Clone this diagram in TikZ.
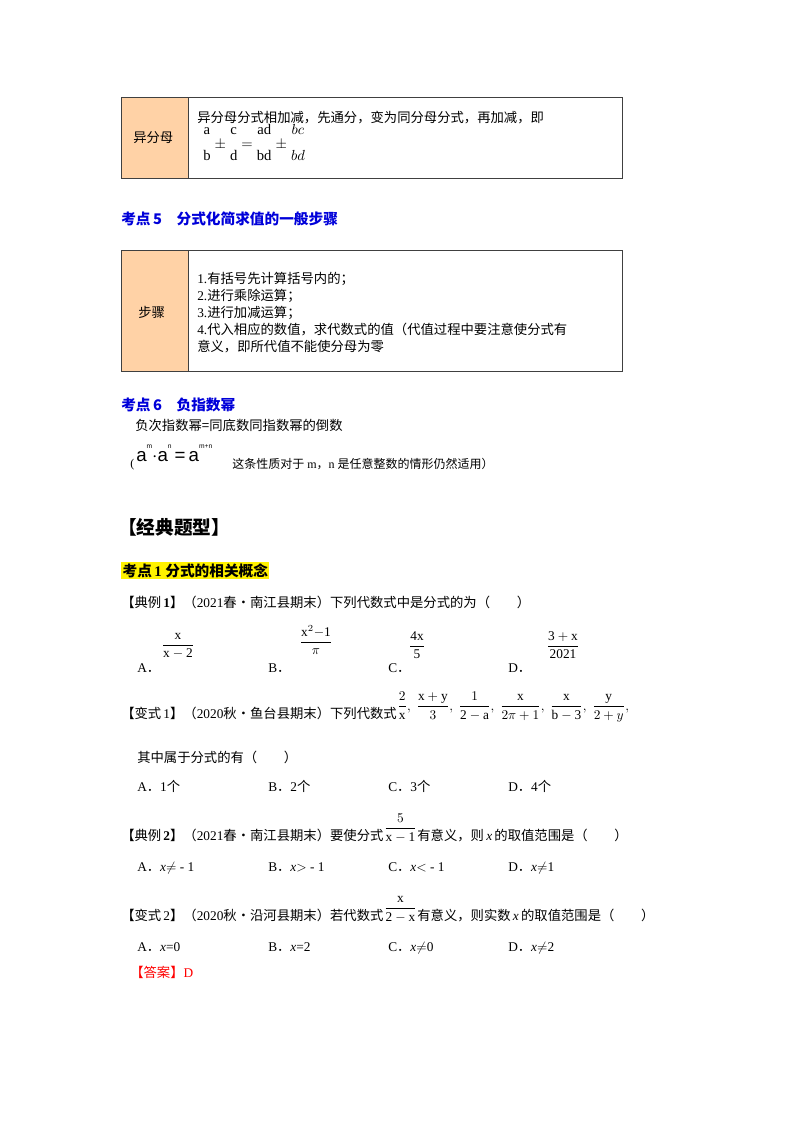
\documentclass[tikz,border=0pt]{standalone}
\usepackage{fontspec}
\setmainfont{Liberation Serif}
\newfontfamily\cjk{Noto Sans CJK SC}
\newfontfamily\sans{Liberation Sans}
\newcommand\zh[1]{{\cjk #1}}
\usepackage{amsmath}
\usetikzlibrary{positioning}
\begin{document}
\begin{tikzpicture}[x=0.75pt,y=-0.75pt,
  t/.style={anchor=base west,inner sep=0,font=\fontsize{10}{12}\selectfont},
  h/.style={anchor=base west,inner sep=0,font=\cjk\bfseries\fontsize{11}{13}\selectfont,text=blue!85!black},
  fr/.style={inner sep=0,font=\fontsize{10}{12}\selectfont},
  box/.style={draw=black!75,line width=0.7pt},
  lab/.style={fill=orange!35!white}]
\useasboundingbox (0,0) rectangle (800,1132);
% table 1
\fill[lab] (121,97) rectangle (188,178);
\draw[box] (121,97) rectangle (622,178);
\draw[box] (188,97) -- (188,178);
\node[t] (l1) at (133,142) {\zh{异分母}};
\node[t] (r1) at (197,122) {\zh{异分母分式相加减，先通分，变为同分母分式，再加减，即}};
\node[fr,anchor=west,font=\fontsize{11}{13}\selectfont] (f1) at (203,144) {$\begin{array}{@{}c@{\;}c@{\;}c@{\;}c@{\;}c@{\;}c@{\;}c@{}}\mathrm{a}&&\mathrm{c}&&\mathrm{ad}&&bc\\[-2pt] &\pm&&=&&\pm&\\[-4pt]\mathrm{b}&&\mathrm{d}&&\mathrm{bd}&&bd\end{array}$};
% heading 5
\node[h] (k5) at (121,224) {考点\,5\quad 分式化简求值的一般步骤};
% table 2
\fill[lab] (121,250) rectangle (188,371);
\draw[box] (121,250) rectangle (622,371);
\draw[box] (188,250) -- (188,371);
\node[t] (l2) at (138,317) {\zh{步骤}};
\node[t] (s1) at (197,283) {1.\zh{有括号先计算括号内的；}};
\node[t] (s2) at (197,300) {2.\zh{进行乘除运算；}};
\node[t] (s3) at (197,317) {3.\zh{进行加减运算；}};
\node[t] (s4) at (197,334) {4.\zh{代入相应的数值，求代数式的值（代值过程中要注意使分式有}};
\node[t] (s5) at (197,351) {\zh{意义，即所代值不能使分母为零}};
% heading 6
\node[h] (k6) at (121,410) {考点\,6\quad 负指数幂};
\node[t,font=\cjk\fontsize{10}{12}\selectfont] (n6) at (135,430) {负次指数幂=同底数同指数幂的倒数};
\node[anchor=base west,inner sep=0,font=\sans\fontsize{14}{16}\selectfont] (pw) at (136,461) {a\raisebox{1.3ex}{\tiny m}$\cdot$a\raisebox{1.3ex}{\tiny n}\,=\,a\raisebox{1.3ex}{\tiny m+n}};
\node[t,font=\fontsize{9}{11}\selectfont] (po) at (130,467) {(};
\node[t,font=\fontsize{9}{11}\selectfont] (pt) at (232,468) {\zh{这条性质对于} m\zh{，}n \zh{是任意整数的情形仍然适用）}};
% classic
\node[anchor=base west,inner sep=0,font=\cjk\bfseries\fontsize{14}{16}\selectfont] (jd) at (118,534) {【经典题型】};
\node[anchor=base west,inner sep=1pt,fill=yellow,font=\bfseries\fontsize{11}{13}\selectfont] (k1) at (121,576) {\zh{考点}\,1\ \zh{分式的相关概念}};
\node[t] (q1) at (121,607) {\zh{【典例}\,\textbf{1}\zh{】（}2021\zh{春•南江县期末）下列代数式中是分式的为（}\qquad\zh{）}};
\node[t] (a1) at (137,672) {A\zh{．}};
\node[fr] (a1f) at (178,646) {$\dfrac{\mathrm{x}}{\mathrm{x-2}}$};
\node[t] (b1) at (268,672) {B\zh{．}};
\node[fr] (b1f) at (316,640) {$\dfrac{\mathrm{x}^2\mathrm{-1}}{\pi}$};
\node[t] (c1) at (388,672) {C\zh{．}};
\node[fr] (c1f) at (417,645) {$\dfrac{\mathrm{4x}}{\mathrm{5}}$};
\node[t] (d1) at (508,672) {D\zh{．}};
\node[fr] (d1f) at (563,645) {$\dfrac{\mathrm{3+x}}{\mathrm{2021}}$};
\node[t] (q2) at (121,718) {\zh{【变式}\,1\zh{】（}2020\zh{秋•鱼台县期末）下列代数式}};
\node[fr,anchor=base west] (q2f) at ([yshift=6pt]q2.base east) {$\dfrac{2}{\mathrm{x}},\ \dfrac{\mathrm{x+y}}{3},\ \dfrac{1}{\mathrm{2-a}},\ \dfrac{\mathrm{x}}{2\pi+1},\ \dfrac{\mathrm{x}}{\mathrm{b-3}},\ \dfrac{\mathrm{y}}{2+y},$};
\node[t] (q2b) at (137,762) {\zh{其中属于分式的有（}\qquad\zh{）}};
\node[t] (a2) at (137,791) {A\zh{．}1\zh{个}};
\node[t] (b2) at (268,791) {B\zh{．}2\zh{个}};
\node[t] (c2) at (388,791) {C\zh{．}3\zh{个}};
\node[t] (d2) at (508,791) {D\zh{．}4\zh{个}};
\node[t] (q3) at (121,840) {\zh{【典例}\,\textbf{2}\zh{】（}2021\zh{春•南江县期末）要使分式}};
\node[fr,anchor=base west] (q3f) at ([yshift=6pt]q3.base east) {$\dfrac{5}{\mathrm{x-1}}$};
\node[t,anchor=base west] (q3b) at (q3f.east |- q3.base) {\zh{有意义，则}\,\textit{x}\,\zh{的取值范围是（}\qquad\zh{）}};
\node[t] (a3) at (137,871) {A\zh{．}\textit{x}$\neq$ - 1};
\node[t] (b3) at (268,871) {B\zh{．}\textit{x}$>$ - 1};
\node[t] (c3) at (388,871) {C\zh{．}\textit{x}$<$ - 1};
\node[t] (d3) at (508,871) {D\zh{．}\textit{x}$\neq$1};
\node[t] (q4) at (121,920) {\zh{【变式}\,2\zh{】（}2020\zh{秋•沿河县期末）若代数式}};
\node[fr,anchor=base west] (q4f) at ([yshift=6pt]q4.base east) {$\dfrac{\mathrm{x}}{\mathrm{2-x}}$};
\node[t,anchor=base west] (q4b) at (q4f.east |- q4.base) {\zh{有意义，则实数}\,\textit{x}\,\zh{的取值范围是（}\qquad\zh{）}};
\node[t] (a4) at (137,951) {A\zh{．}\textit{x}=0};
\node[t] (b4) at (268,951) {B\zh{．}\textit{x}=2};
\node[t] (c4) at (388,951) {C\zh{．}\textit{x}$\neq$0};
\node[t] (d4) at (508,951) {D\zh{．}\textit{x}$\neq$2};
\node[t,text=red] (ans) at (130,977) {\zh{【答案】}D};
\end{tikzpicture}
\end{document}
